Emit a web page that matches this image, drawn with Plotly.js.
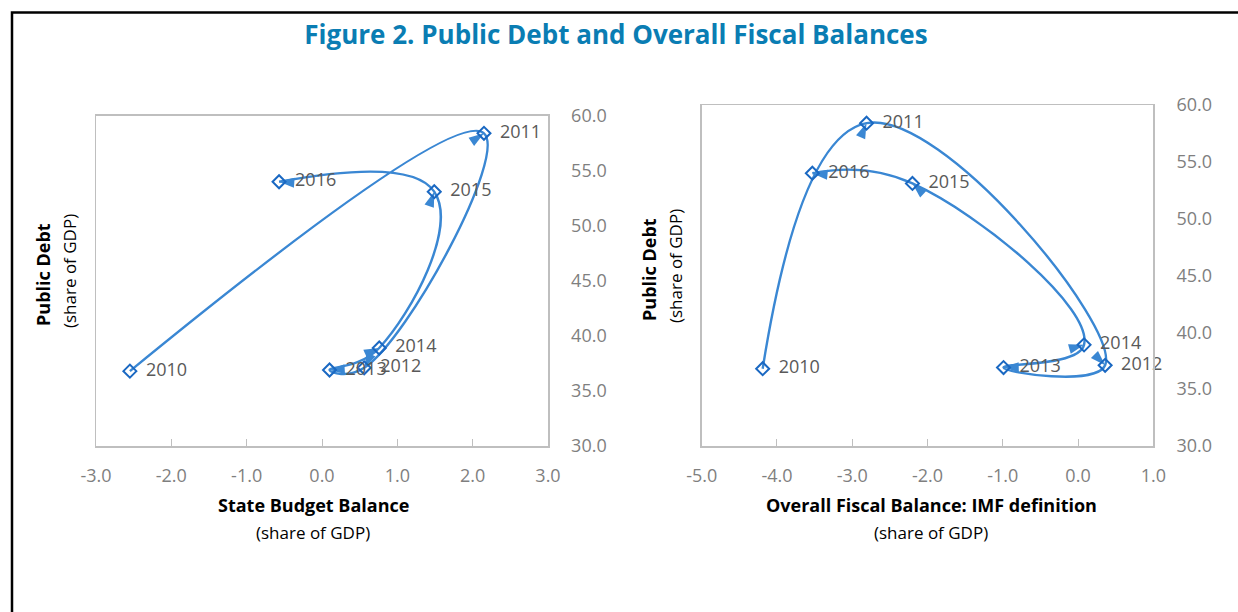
<!DOCTYPE html>
<html>
<head>
<meta charset="utf-8">
<script src="https://cdn.plot.ly/plotly-3.0.1.min.js"></script>
<style>html,body{margin:0;padding:0;background:#fff;}#chart{width:1238px;height:612px;}</style>
</head>
<body>
<div id="chart"></div>
<script>
// ---- data ----
const years = ['2010', '2011', '2012', '2013', '2014', '2015', '2016'];
const stateBudgetBalance = [-2.55, 2.15, 0.56, 0.10, 0.76, 1.49, -0.57];
const imfFiscalBalance = [-4.19, -2.81, 0.36, -0.99, 0.08, -2.20, -3.53];
const publicDebt = [36.8, 58.4, 37.1, 36.9, 38.9, 53.1, 54.0];
const leftXTicks = [-3, -2, -1, 0, 1, 2, 3];
const leftXLabels = ['-3.0', '-2.0', '-1.0', '0.0', '1.0', '2.0', '3.0'];
const rightXTicks = [-5, -4, -3, -2, -1, 0, 1];
const rightXLabels = ['-5.0', '-4.0', '-3.0', '-2.0', '-1.0', '0.0', '1.0'];
const debtRange = [30, 60];

// ---- styling ----
const FONT = 'Open Sans, Noto Sans, sans-serif';
const lineColor = '#3A87D3';
const markerColor = '#1A68C2';
const frameColor = '#BFBFBF';
const tickColor = '#7F7F7F';
const labelColor = '#595959';
const redColor = 'rgb(242,90,90)';

const W = 1238, H = 612;
const leftDom = {x: [96 / W, 548 / W], y: [1 - 446 / H, 1 - 115.7 / H]};
const rightDom = {x: [701.7 / W, 1153.3 / W], y: [1 - 446 / H, 1 - 105 / H]};

function rangeOf(t) { return [t[0], t[t.length - 1]]; }
function zeroPos(dom, range) {
  return dom[0] + (0 - range[0]) / (range[1] - range[0]) * (dom[1] - dom[0]);
}

function seriesTraces(xs, ys, xa, ya) {
  return [
    {x: xs, y: ys, xaxis: xa, yaxis: ya, type: 'scatter', mode: 'lines',
     line: {color: lineColor, width: 2.4, shape: 'spline', smoothing: 1.3},
     hoverinfo: 'skip', showlegend: false},
    {x: xs, y: ys, xaxis: xa, yaxis: ya, type: 'scatter', mode: 'markers',
     marker: {symbol: 'arrow', angleref: 'previous', color: lineColor, opacity: 1,
              size: xs.map((_, i) => i === 0 ? 0 : 16), line: {width: 0}},
     hoverinfo: 'skip', showlegend: false},
    {x: xs, y: ys, xaxis: xa, yaxis: ya, type: 'scatter', mode: 'markers',
     marker: {symbol: 'diamond-open', size: 10, color: markerColor, opacity: 1,
              line: {width: 2, color: markerColor}},
     hoverinfo: 'skip', showlegend: false},
    {x: xs, y: ys, xaxis: xa, yaxis: ya, type: 'scatter', mode: 'markers+text',
     text: years, textposition: 'middle right', cliponaxis: false,
     textfont: {family: FONT, size: 18, color: labelColor},
     marker: {size: 24, opacity: 0, color: '#ffffff'},
     hoverinfo: 'skip', showlegend: false}
  ];
}

const data = [].concat(
  seriesTraces(stateBudgetBalance, publicDebt, 'x', 'y'),
  seriesTraces(imfFiscalBalance, publicDebt, 'x2', 'y2')
);

function xAxis(dom, ticks, labels, anchor) {
  return {domain: dom, range: rangeOf(ticks), tickvals: ticks, ticktext: labels, anchor: anchor,
          ticks: 'inside', ticklen: 7, tickcolor: frameColor, tickwidth: 1,
          showline: true, linecolor: frameColor, linewidth: 1.5, mirror: true,
          showgrid: false, zeroline: false, ticklabelstandoff: 13,
          tickfont: {family: FONT, size: 18, color: tickColor}};
}
function yAxis(dom, anchor) {
  return {domain: dom, range: debtRange, dtick: 5, tickformat: '.1f', anchor: anchor,
          side: 'right', ticks: '', showline: true, linecolor: frameColor, linewidth: 1.5,
          mirror: true, showgrid: false, zeroline: false, ticklabelstandoff: 18,
          tickfont: {family: FONT, size: 18, color: tickColor}};
}
function redAxis(overlay, pos) {
  return {overlaying: overlay, anchor: 'free', position: pos, side: 'right',
          range: debtRange, dtick: 5, ticks: 'outside', ticklen: 7, tickwidth: 1,
          tickcolor: redColor, showline: true, linecolor: redColor, linewidth: 1.5,
          showticklabels: false, showgrid: false, zeroline: false, layer: 'below traces'};
}

function ann(text, x, y, size, bold, angle) {
  return {text: bold ? '<b>' + text + '</b>' : text, x: x / W, y: 1 - y / H,
          xref: 'paper', yref: 'paper', showarrow: false, textangle: angle || 0,
          xanchor: 'center', yanchor: 'middle',
          font: {family: FONT, size: size, color: '#000000'}};
}

const layout = {
  width: W, height: H,
  margin: {l: 0, r: 0, t: 0, b: 0},
  paper_bgcolor: '#ffffff', plot_bgcolor: '#ffffff',
  font: {family: FONT},
  title: {text: '<b>Figure 2. Public Debt and Overall Fiscal Balances</b>',
          x: 616 / W, xanchor: 'center', y: 1 - 35 / H, yanchor: 'middle',
          font: {family: FONT, size: 26, color: '#0A7DB3'}},
  xaxis: xAxis(leftDom.x, leftXTicks, leftXLabels, 'y'),
  yaxis: yAxis(leftDom.y, 'x'),
  xaxis2: xAxis(rightDom.x, rightXTicks, rightXLabels, 'y2'),
  yaxis2: yAxis(rightDom.y, 'x2'),
  yaxis3: redAxis('y', zeroPos(leftDom.x, rangeOf(leftXTicks))),
  yaxis4: redAxis('y2', zeroPos(rightDom.x, rangeOf(rightXTicks))),
  annotations: [
    ann('State Budget Balance', 313, 505, 18, true),
    ann('(share of GDP)', 313, 532, 17, false),
    ann('Overall Fiscal Balance: IMF definition', 931, 505, 18, true),
    ann('(share of GDP)', 931, 532, 17, false),
    ann('Public Debt', 43, 275, 18, true, -90),
    ann('(share of GDP)', 69, 271, 17, false, -90),
    ann('Public Debt', 649, 270, 18, true, -90),
    ann('(share of GDP)', 675, 266, 17, false, -90)
  ],
  shapes: [
    {type: 'rect', xref: 'paper', yref: 'paper', x0: 12 / W, x1: 1.05, y0: -0.1, y1: 1 - 12.5 / H,
     line: {color: '#000000', width: 2.5}, fillcolor: 'rgba(0,0,0,0)', layer: 'above'}
  ]
};

Plotly.newPlot('chart', data, layout, {displayModeBar: false, staticPlot: true});
</script>
</body>
</html>
